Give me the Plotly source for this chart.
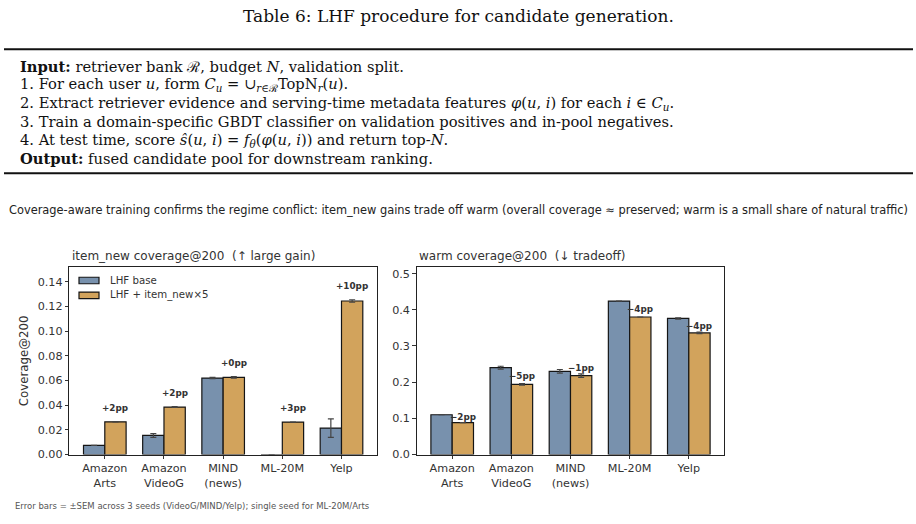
import plotly.graph_objects as go

W, H = 916, 524

# ---------------- data ----------------
categories = ["Amazon<br>Arts", "Amazon<br>VideoG", "MIND<br>(news)", "ML-20M", "Yelp"]
item_new_base = [0.0075, 0.0155, 0.0620, 0.0, 0.0215]
item_new_base_sem = [0.0, 0.0015, 0.0005, 0.0, 0.0075]
item_new_w5 = [0.0265, 0.0385, 0.0625, 0.0263, 0.1245]
item_new_w5_sem = [0.0, 0.0003, 0.0006, 0.0, 0.0010]
warm_base = [0.110, 0.240, 0.230, 0.424, 0.376]
warm_base_sem = [0.0, 0.004, 0.005, 0.0, 0.002]
warm_w5 = [0.088, 0.194, 0.218, 0.380, 0.336]
warm_w5_sem = [0.0, 0.002, 0.005, 0.0, 0.002]

series_names = ["LHF base", "LHF + item_new×5"]

table_title = "Table 6: LHF procedure for candidate generation."
table_lines = [
    "<b>Input:</b> retriever bank ℛ, budget <i>N</i>, validation split.",
    "1. For each user <i>u</i>, form <i>C</i><sub><i>u</i></sub> = ∪<sub><i>r</i>∈ℛ</sub>TopN<sub><i>r</i></sub>(<i>u</i>).",
    "2. Extract retriever evidence and serving-time metadata features <i>φ</i>(<i>u</i>, <i>i</i>) for each <i>i</i> ∈ <i>C</i><sub><i>u</i></sub>.",
    "3. Train a domain-specific GBDT classifier on validation positives and in-pool negatives.",
    "4. At test time, score <i>ŝ</i>(<i>u</i>, <i>i</i>) = <i>f</i><sub><i>θ</i></sub>(<i>φ</i>(<i>u</i>, <i>i</i>)) and return top-<i>N</i>.",
    "<b>Output:</b> fused candidate pool for downstream ranking.",
]
suptitle = ("Coverage-aware training confirms the regime conflict: item_new gains trade off warm "
            "(overall coverage ≈ preserved; warm is a small share of natural traffic)")
left_title = "item_new coverage@200 \u00a0(↑ large gain)"
right_title = "warm coverage@200 \u00a0(↓ tradeoff)"
footer = "Error bars = ±SEM across 3 seeds (VideoG/MIND/Yelp); single seed for ML-20M/Arts"

# ---------------- style ----------------
C_BASE = "#7891ad"
C_NEW = "#d2a35c"
EDGE = "#151515"
TXT = "#333333"
SANS = "DejaVu Sans"
SERIF = "DejaVu Serif"
BAR_W = 0.36


def px(x):
    return x / W


def py(y):
    return 1 - y / H


xs = list(range(len(categories)))

fig = go.Figure()


def add_pair(base, base_sem, new, new_sem, xa, ya):
    for vals, sem, col, name in ((base, base_sem, C_BASE, series_names[0]),
                                 (new, new_sem, C_NEW, series_names[1])):
        fig.add_trace(go.Bar(
            x=xs, y=vals, name=name, showlegend=False,
            marker=dict(color=col, line=dict(color=EDGE, width=1.2)),
            error_y=dict(type="data", array=sem, visible=True, color="#444444",
                         thickness=1.2, width=3),
            xaxis=xa, yaxis=ya,
        ))


add_pair(item_new_base, item_new_base_sem, item_new_w5, item_new_w5_sem, "x", "y")
add_pair(warm_base, warm_base_sem, warm_w5, warm_w5_sem, "x2", "y2")

annotations = []
shapes = []

# delta labels
for i in xs:
    d = (item_new_w5[i] - item_new_base[i]) * 100
    top = max(item_new_base[i] + item_new_base_sem[i], item_new_w5[i] + item_new_w5_sem[i])
    annotations.append(dict(x=i + BAR_W / 2, y=top + 0.0115, xref="x", yref="y",
                            text=f"<b>{d:+.0f}pp</b>", showarrow=False,
                            font=dict(family=SANS, size=8.8, color=TXT),
                            xanchor="center", yanchor="middle"))
for i in xs:
    d = (warm_w5[i] - warm_base[i]) * 100
    mid = (warm_w5[i] + warm_base[i]) / 2
    yy = max(mid, warm_w5[i] + warm_w5_sem[i] + 0.015)
    annotations.append(dict(x=i + BAR_W / 2, y=yy, xref="x2", yref="y2",
                            text=f"<b>{d:+.0f}pp</b>".replace("-", "−"), showarrow=False,
                            font=dict(family=SANS, size=8.8, color=TXT),
                            xanchor="center", yanchor="middle"))

# manual legend (wide patches as in the reference)
legend_rows = [(284.3, C_BASE), (299.3, C_NEW)]
for (cy, col), name in zip(legend_rows, series_names):
    shapes.append(dict(type="rect", xref="paper", yref="paper",
                       x0=px(79), x1=px(99), y0=py(cy - 3.3), y1=py(cy + 3.3),
                       fillcolor=col, line=dict(color=EDGE, width=1.2)))
    annotations.append(dict(x=px(107.5), y=py(cy), xref="paper", yref="paper", text=name,
                            showarrow=False, xanchor="left", yanchor="middle",
                            font=dict(family=SANS, size=10.2, color=TXT)))

# table
annotations.append(dict(x=0.5, y=py(16), xref="paper", yref="paper", text=table_title,
                        showarrow=False, xanchor="center", yanchor="middle",
                        font=dict(family=SERIF, size=17, color="#111")))
line_y = [67, 85.5, 104.5, 123.3, 142, 160.5]
for t, yy in zip(table_lines, line_y):
    annotations.append(dict(x=px(17.5), y=py(yy), xref="paper", yref="paper", text=t,
                            showarrow=False, xanchor="left", yanchor="middle",
                            font=dict(family=SERIF, size=14.7, color="#111")))
for yy in (50, 175.5):
    shapes.append(dict(type="line", xref="paper", yref="paper", x0=px(4), x1=px(913),
                       y0=py(yy), y1=py(yy), line=dict(color="#111", width=2)))

annotations.append(dict(x=0.5, y=py(213), xref="paper", yref="paper", text=suptitle,
                        showarrow=False, xanchor="center", yanchor="middle",
                        font=dict(family=SANS, size=11.4, color="#222")))
annotations.append(dict(x=px(69.5), y=py(259), xref="paper", yref="paper", text=left_title,
                        showarrow=False, xanchor="left", yanchor="middle",
                        font=dict(family=SANS, size=12, color=TXT)))
annotations.append(dict(x=px(416.5), y=py(259), xref="paper", yref="paper", text=right_title,
                        showarrow=False, xanchor="left", yanchor="middle",
                        font=dict(family=SANS, size=12, color=TXT)))
annotations.append(dict(x=px(12.5), y=py(512.5), xref="paper", yref="paper", text=footer,
                        showarrow=False, xanchor="left", yanchor="middle",
                        font=dict(family=SANS, size=8.5, color="#555")))

y_dom = [py(460.7), py(270.7)]
axis_common = dict(showline=True, linecolor="#222", linewidth=1, mirror=True,
                   ticks="outside", ticklen=3.5, tickcolor="#333", showgrid=False,
                   zeroline=False, tickfont=dict(family=SANS, size=11.2, color=TXT))

fig.update_layout(
    width=W, height=H, margin=dict(l=0, r=0, t=0, b=0),
    paper_bgcolor="white", plot_bgcolor="white",
    barmode="group", bargap=1 - 2 * BAR_W, bargroupgap=0,
    font=dict(family=SANS, color=TXT),
    showlegend=False,
    xaxis=dict(domain=[px(69.3), px(377)], range=[-0.6, 4.6], tickvals=xs,
               ticktext=categories, anchor="y", **axis_common),
    yaxis=dict(domain=y_dom, range=[0, 0.152], dtick=0.02, tickformat=".2f",
               anchor="x", title=dict(text="Coverage@200", standoff=6,
                                      font=dict(family=SANS, size=11.8, color=TXT)),
               **axis_common),
    xaxis2=dict(domain=[px(416.7), px(724.3)], range=[-0.6, 4.6], tickvals=xs,
                ticktext=categories, anchor="y2", **axis_common),
    yaxis2=dict(domain=y_dom, range=[0, 0.518], dtick=0.1, tickformat=".1f",
                anchor="x2", **axis_common),
    annotations=annotations, shapes=shapes,
)

fig.write_html("out.html")
